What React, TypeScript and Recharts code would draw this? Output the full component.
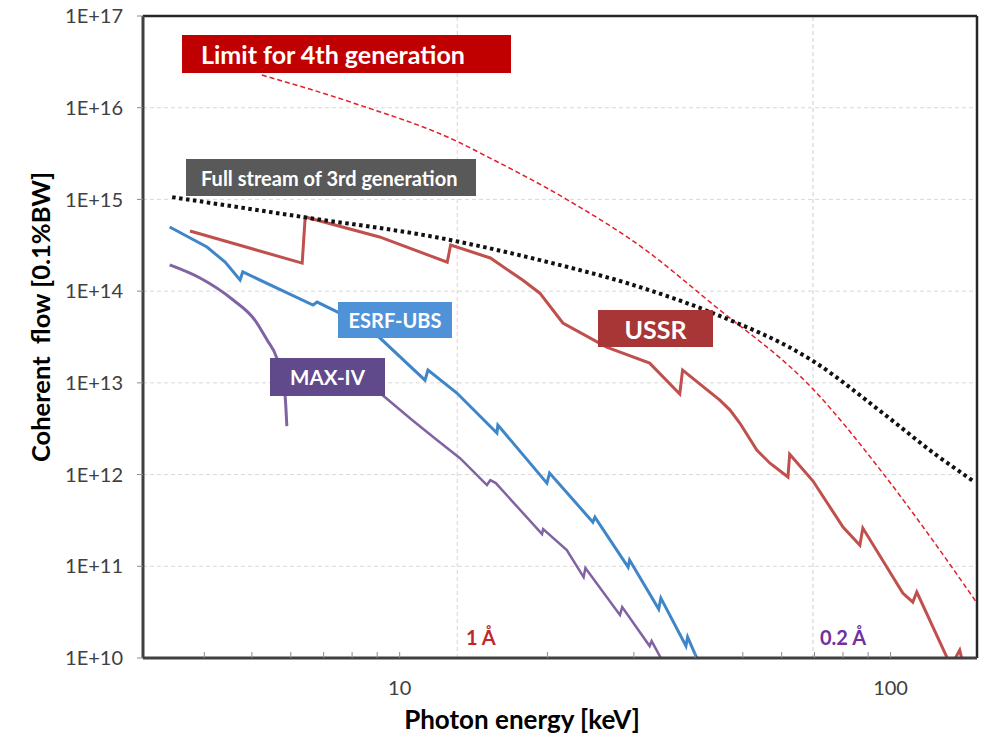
import React from 'react';
import { LineChart, Line, XAxis, YAxis, CartesianGrid, ReferenceLine } from 'recharts';

// photon energy in keV, coherent flow in ph/s/0.1%BW
const limitEnergy = [5.24, 8.07, 13.3, 14.6, 22.0, 31.3, 43.4, 69.5, 96.4, 121.8, 150];
const limitFlow = [2.27e16, 1.12e16, 4.12e15, 3.2e15, 9.85e14, 2.95e14, 7.2e13, 8.55e12, 1.04e12, 1.93e11, 3.97e10];

const thirdGenEnergy = [3.44, 6.35, 12.1, 19.3, 30.8, 43.4, 69.5, 96.4, 124, 148.5];
const thirdGenFlow = [1.06e15, 6.43e14, 3.79e14, 2.18e14, 1.11e14, 5.77e13, 1.73e13, 4.69e12, 1.63e12, 8.28e11];

const ussrEnergy = [3.74, 6.33, 6.42, 9.1, 12.5, 12.7, 15.3, 17.8, 19.3, 21.5, 26.4, 32.3, 37.2, 37.7, 44.9, 47.1, 49.3, 53.4, 56.8, 61.8, 62.3, 69.5, 80, 86.6, 87.8, 105.9, 111, 113.1, 130.2, 132.6, 138.3, 141];
const ussrFlow = [4.52e14, 2.02e14, 6.43e14, 3.9e14, 2.07e14, 3.18e14, 2.3e14, 1.32e14, 9.5e13, 4.49e13, 2.45e13, 1.64e13, 7.55e12, 1.38e13, 6.49e12, 5.05e12, 3.65e12, 1.85e12, 1.33e12, 9.4e11, 1.67e12, 8.5e11, 2.68e11, 1.7e11, 2.61e11, 5.1e10, 4.07e10, 5.24e10, 1.02e10, 8e9, 1.22e10, 8e9];

const esrfEnergy = [3.4, 4.05, 4.41, 4.73, 4.79, 6.66, 6.79, 7.55, 9.12, 11.26, 11.42, 13.08, 15.78, 15.85, 19.95, 20.2, 24.75, 24.99, 29.2, 29.4, 33.7, 34.05, 38.3, 38.6, 40.3, 41];
const esrfFlow = [5.0e14, 3.03e14, 2.07e14, 1.32e14, 1.62e14, 7.05e13, 7.6e13, 5.77e13, 3.08e13, 1.07e13, 1.38e13, 7.75e12, 2.84e12, 3.47e12, 8.07e11, 1.04e12, 3.03e11, 3.44e11, 9.8e10, 1.17e11, 3.41e10, 4.5e10, 1.35e10, 1.69e10, 1e10, 8e9];

const maxIvEnergy = [3.4, 3.92, 4.58, 5.07, 5.37, 5.62, 5.84, 5.89];
const maxIvFlow = [1.93e14, 1.39e14, 8.0e13, 4.84e13, 2.93e13, 1.86e13, 7.37e12, 3.38e12];

const maxIvHighEnergy = [7.92, 9.12, 10.6, 11.91, 13.27, 15.06, 15.3, 15.7, 19.5, 19.6, 21.9, 23.7, 23.9, 28.1, 28.4, 32.3, 32.6, 34.05, 35];
const maxIvHighFlow = [1.82e13, 7.75e12, 3.93e12, 2.38e12, 1.51e12, 7.69e11, 8.7e11, 8.07e11, 2.24e11, 2.55e11, 1.5e11, 7.6e10, 9.55e10, 2.94e10, 3.59e10, 1.35e10, 1.53e10, 1e10, 8e9];

const yTicks = [1e10, 1e11, 1e12, 1e13, 1e14, 1e15, 1e16, 1e17];
const xTicks = [4, 5, 6, 7, 8, 9, 10, 20, 30, 40, 50, 60, 70, 80, 90, 100];
const xLabelled = [10, 100];

const oneAngstrom = 13.1;
const fifthAngstrom = 69.5;

const toPoints = (e: number[], f: number[]) => e.map((x, i) => ({ e: x, f: f[i] }));

const FONT = 'Lato, "Open Sans", sans-serif';

const box = (left: number, top: number, width: number, height: number, bg: string): React.CSSProperties => ({
  position: 'absolute',
  left,
  top,
  width,
  height,
  background: bg,
  color: '#fff',
  fontFamily: FONT,
  fontWeight: 700,
  display: 'flex',
  alignItems: 'center',
  boxSizing: 'border-box',
  whiteSpace: 'nowrap',
});

export default function App() {
  return (
    <div style={{ position: 'absolute', left: 0, top: 0, width: 983, height: 734, background: '#fff' }}>
      <LineChart width={983} height={734} margin={{ top: 16, right: 6, bottom: 0, left: 0 }}>
        <CartesianGrid vertical={false} stroke="#d9d9d9" strokeDasharray="4 3" />
        <XAxis
          dataKey="e"
          type="number"
          scale="log"
          domain={[3, 150]}
          allowDataOverflow
          ticks={xTicks}
          interval={0}
          height={76}
          tickSize={-6}
          tickMargin={29}
          tickFormatter={(v: number) => (xLabelled.includes(v) ? String(v) : '')}
          tick={{ fill: '#404040', fontSize: 20, fontFamily: FONT }}
          tickLine={{ stroke: '#8c8c8c' }}
          axisLine={{ stroke: '#404040', strokeWidth: 3 }}
        />
        <YAxis
          type="number"
          scale="log"
          domain={[1e10, 1e17]}
          allowDataOverflow
          ticks={yTicks}
          interval={0}
          width={143}
          tickSize={6}
          tickMargin={14}
          tickFormatter={(v: number) => '1E+' + Math.round(Math.log10(v))}
          tick={{ fill: '#404040', fontSize: 20, fontFamily: FONT }}
          tickLine={{ stroke: '#8c8c8c' }}
          axisLine={{ stroke: '#404040', strokeWidth: 3 }}
        />
        <ReferenceLine x={oneAngstrom} stroke="#f2c6d0" strokeDasharray="4 3" />
        <ReferenceLine x={fifthAngstrom} stroke="#c8cce2" strokeDasharray="4 3" />
        <ReferenceLine y={1e17} stroke="#262626" strokeWidth={2.5} />
        <ReferenceLine x={150} stroke="#262626" strokeWidth={2.5} />

        <Line data={toPoints(limitEnergy, limitFlow)} dataKey="f" type="monotone" stroke="#e0202a" strokeWidth={1.5} strokeDasharray="5 3" dot={false} activeDot={false} isAnimationActive={false} />
        <Line data={toPoints(maxIvEnergy, maxIvFlow)} dataKey="f" type="monotone" stroke="#8064a2" strokeWidth={3} dot={false} activeDot={false} isAnimationActive={false} />
        <Line data={toPoints(maxIvHighEnergy, maxIvHighFlow)} dataKey="f" type="linear" stroke="#8064a2" strokeWidth={2.5} dot={false} activeDot={false} isAnimationActive={false} />
        <Line data={toPoints(esrfEnergy, esrfFlow)} dataKey="f" type="linear" stroke="#3f86c8" strokeWidth={3} dot={false} activeDot={false} isAnimationActive={false} />
        <Line data={toPoints(ussrEnergy, ussrFlow)} dataKey="f" type="linear" stroke="#c0504d" strokeWidth={3} dot={false} activeDot={false} isAnimationActive={false} />
        <Line data={toPoints(thirdGenEnergy, thirdGenFlow)} dataKey="f" type="monotone" stroke="#111" strokeWidth={4} strokeDasharray="3.5 3.5" dot={false} activeDot={false} isAnimationActive={false} />
      </LineChart>

      <div style={{ ...box(182, 35, 329, 38, '#c00000'), fontSize: 25, paddingLeft: 19 }}>Limit for 4th generation</div>
      <div style={{ ...box(186, 159, 290, 37, '#595959'), fontSize: 20, paddingLeft: 15 }}>Full stream of 3rd generation</div>
      <div style={{ ...box(338, 302, 114, 36, '#4f92d8'), fontSize: 20, justifyContent: 'center' }}>ESRF-UBS</div>
      <div style={{ ...box(270, 358, 115, 38, '#604a8b'), fontSize: 20.5, justifyContent: 'center' }}>MAX-IV</div>
      <div style={{ ...box(598, 310, 115, 37, '#a83636'), fontSize: 25, justifyContent: 'center' }}>USSR</div>

      <div style={{ position: 'absolute', left: 466, top: 625, color: '#c0272d', fontFamily: FONT, fontWeight: 700, fontSize: 20 }}>1 Å</div>
      <div style={{ position: 'absolute', left: 820, top: 625, color: '#7030a0', fontFamily: FONT, fontWeight: 700, fontSize: 20 }}>0.2 Å</div>

      <div
        style={{
          position: 'absolute',
          left: 40,
          top: 317,
          transform: 'translate(-50%, -50%) rotate(-90deg)',
          fontFamily: FONT,
          fontWeight: 700,
          fontSize: 25.5,
          color: '#000',
          whiteSpace: 'pre',
        }}
      >
        {'Coherent  flow [0.1%BW]'}
      </div>
      <div
        style={{
          position: 'absolute',
          left: 522,
          top: 719,
          transform: 'translate(-50%, -50%)',
          fontFamily: FONT,
          fontWeight: 700,
          fontSize: 26,
          color: '#000',
          whiteSpace: 'nowrap',
        }}
      >
        Photon energy [keV]
      </div>
    </div>
  );
}
